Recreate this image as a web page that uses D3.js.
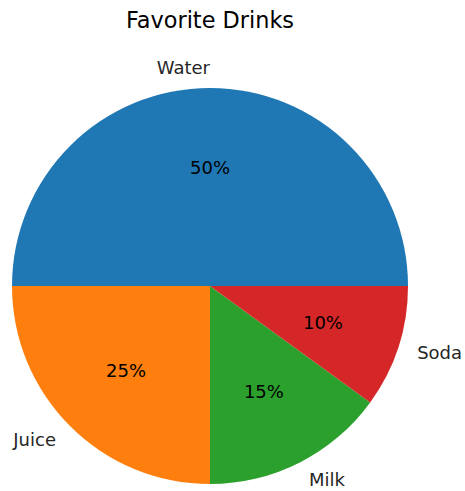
<!DOCTYPE html>
<html><head><meta charset="utf-8">
<script src="https://cdn.jsdelivr.net/npm/d3@7"></script>
<style>body{margin:0;background:#fff;} text{font-family:"DejaVu Sans",sans-serif;}</style>
</head><body>
<svg id="c" width="465" height="491"></svg>
<script>
const categories = ["Water", "Juice", "Milk", "Soda"];
const values = [50, 25, 15, 10];
const colors = ["#1f77b4", "#ff7f0e", "#2ca02c", "#d62728"];
const title = "Favorite Drinks";

const svg = d3.select("#c");
const cx = 210, cy = 286, r = 198;
const g = svg.append("g").attr("transform", `translate(${cx},${cy})`);

// matplotlib: start at 3 o'clock, counterclockwise. d3: 0 at 12 o'clock, clockwise.
const pie = d3.pie().sort(null).value(d => d)
  .startAngle(Math.PI / 2).endAngle(Math.PI / 2 - 2 * Math.PI);
const arcs = pie(values);
const arc = d3.arc().innerRadius(0).outerRadius(r);

g.selectAll("path").data(arcs).enter().append("path")
  .attr("d", arc).attr("fill", (d, i) => colors[i]);

const total = d3.sum(values);
arcs.forEach((a, i) => {
  const mid = (a.startAngle + a.endAngle) / 2;
  const x = Math.sin(mid), y = -Math.cos(mid);
  const lx = 1.1 * r * x, ly = 1.1 * r * y;
  g.append("text").attr("x", lx).attr("y", ly - 1)
    .attr("text-anchor", lx > 0.5 ? "start" : "end")
    .attr("dominant-baseline", "central")
    .attr("font-size", 18).attr("fill", "#262626").text(categories[i]);
  g.append("text").attr("x", 0.6 * r * x).attr("y", 0.6 * r * y)
    .attr("text-anchor", "middle").attr("dominant-baseline", "central")
    .attr("font-size", 18).attr("fill", "#000")
    .text(Math.round(values[i] / total * 100) + "%");
});

svg.append("text").attr("x", cx).attr("y", 28).attr("text-anchor", "middle")
  .attr("font-size", 22.4).attr("fill", "#000").text(title);
</script>
</body></html>
